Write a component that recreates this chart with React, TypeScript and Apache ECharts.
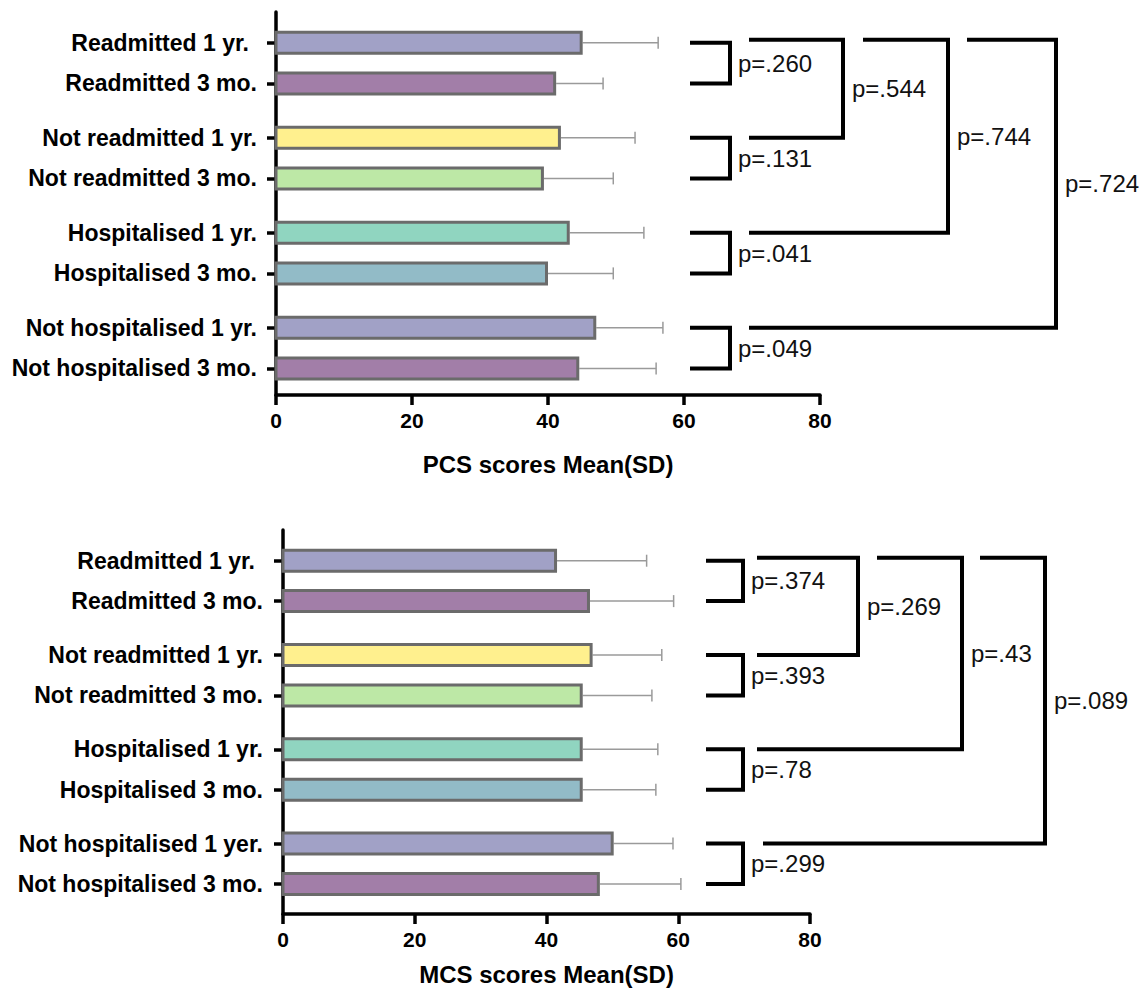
import React, { useEffect, useRef } from "react";
import * as echarts from "echarts";

// ---------- data ----------
const pcsNames = [
  "Readmitted 1 yr. ",
  "Readmitted 3 mo.",
  "Not readmitted 1 yr.",
  "Not readmitted 3 mo.",
  "Hospitalised 1 yr.",
  "Hospitalised 3 mo.",
  "Not hospitalised 1 yr.",
  "Not hospitalised 3 mo.",
];
const mcsNames = [
  "Readmitted 1 yr. ",
  "Readmitted 3 mo.",
  "Not readmitted 1 yr.",
  "Not readmitted 3 mo.",
  "Hospitalised 1 yr.",
  "Hospitalised 3 mo.",
  "Not hospitalised 1 yer.",
  "Not hospitalised 3 mo.",
];
const rowPositions = [0, 3, 7, 10, 14, 17, 21, 24];
const pcsMean = [45.1, 41.2, 41.9, 39.4, 43.2, 40.0, 47.1, 44.6];
const pcsSD = [11.1, 6.9, 10.9, 10.2, 10.9, 9.6, 9.8, 11.3];
const mcsMean = [41.6, 46.6, 47.0, 45.5, 45.5, 45.5, 50.2, 48.1];
const mcsSD = [13.6, 12.7, 10.5, 10.5, 11.4, 11.1, 9.0, 12.3];
const xMin = 0;
const xMax = 80;
const xInterval = 20;
const pcsTitle = "PCS scores Mean(SD)";
const mcsTitle = "MCS scores Mean(SD)";
// pairwise p-values (pairs of rows) and nested comparisons (first pair vs later pair)
const pcsPairP = ["p=.260", "p=.131", "p=.041", "p=.049"];
const pcsNestedP = ["p=.544", "p=.744", "p=.724"];
const mcsPairP = ["p=.374", "p=.393", "p=.78", "p=.299"];
const mcsNestedP = ["p=.269", "p=.43", "p=.089"];

// ---------- styles ----------
const barColors = ["#A1A1C6", "#A27EA8", "#FFF08E", "#BDE8A6", "#90D5C0", "#92BBC7", "#A1A1C6", "#A27EA8"];
const FONT = "'Liberation Sans', Arial, sans-serif";

const bracketLayout = [
  { pairX: [690, 730], levelX: [843, 948, 1056], levelStart: [749, 863, 967], bottomStart: [749, 749, 749] },
  { pairX: [706, 743], levelX: [858, 962, 1045], levelStart: [757, 877, 980], bottomStart: [757, 757, 763] },
];

function renderBar(colors: string[]) {
  return (params: any, api: any) => {
    const mean = api.value(0);
    const pos = api.value(1);
    const sd = api.value(2);
    const p0 = api.coord([0, pos]);
    const p1 = api.coord([mean, pos]);
    const p2 = api.coord([mean + sd, pos]);
    const h = 21;
    return {
      type: "group",
      children: [
        { type: "line", shape: { x1: p1[0], y1: p1[1], x2: p2[0], y2: p2[1] }, style: { stroke: "#9a9a9a", lineWidth: 1.5 } },
        { type: "line", shape: { x1: p2[0], y1: p2[1] - 6, x2: p2[0], y2: p2[1] + 6 }, style: { stroke: "#9a9a9a", lineWidth: 1.5 } },
        {
          type: "rect",
          shape: { x: p0[0], y: p1[1] - h / 2, width: p1[0] - p0[0] - 1.5, height: h },
          style: { fill: colors[params.dataIndex], stroke: "#6b6b6b", lineWidth: 3 },
        },
      ],
    };
  };
}

function yAxisFor(idx: number, names: string[], min: number, max: number, margin: number) {
  return {
    type: "value",
    gridIndex: idx,
    inverse: true,
    min,
    max,
    splitLine: { show: false },
    axisLine: { show: true, onZero: false, lineStyle: { color: "#000", width: 3.5 } },
    axisTick: { show: true, customValues: rowPositions, length: 9, lineStyle: { color: "#000", width: 3.5 } },
    axisLabel: {
      customValues: rowPositions,
      margin,
      color: "#000",
      fontFamily: FONT,
      fontWeight: "bold",
      fontSize: 23,
      formatter: (v: number) => {
        const i = rowPositions.indexOf(Math.round(v));
        if (i < 0) return "";
        const n = names[i];
        if (n.endsWith(" ")) return "{s|" + n.trim() + "}";
        return n;
      },
      rich: {
        s: { padding: [0, 8, 0, 0], color: "#000", fontFamily: FONT, fontWeight: "bold", fontSize: 23 },
      },
    },
  };
}

function xAxisFor(idx: number, name: string, nameGap: number) {
  return {
    type: "value",
    gridIndex: idx,
    min: xMin,
    max: xMax,
    interval: xInterval,
    splitLine: { show: false },
    axisLine: { show: true, onZero: false, lineStyle: { color: "#000", width: 3.5 } },
    axisTick: { show: true, length: 10, lineStyle: { color: "#000", width: 3.5 } },
    axisLabel: { margin: 15, color: "#000", fontFamily: FONT, fontWeight: "bold", fontSize: 21 },
    name,
    nameLocation: "middle",
    nameGap,
    nameTextStyle: { color: "#000", fontFamily: FONT, fontWeight: "bold", fontSize: 24 },
  };
}

export default function App() {
  const ref = useRef<HTMLDivElement>(null);
  useEffect(() => {
    if (!ref.current) return;
    const chart = echarts.init(ref.current, undefined, { renderer: "svg" });
    const option: any = {
      animation: false,
      backgroundColor: "#fff",
      grid: [
        { left: 276, top: 12, width: 544, height: 383, outerBoundsMode: "none", containLabel: false },
        { left: 283, top: 530, width: 527, height: 384, outerBoundsMode: "none", containLabel: false },
      ],
      xAxis: [xAxisFor(0, pcsTitle, 57), xAxisFor(1, mcsTitle, 48)],
      yAxis: [yAxisFor(0, pcsNames, -2.26, 25.96, 19), yAxisFor(1, mcsNames, -2.28, 26.23, 20)],
      series: [
        {
          type: "custom",
          xAxisIndex: 0,
          yAxisIndex: 0,
          clip: false,
          renderItem: renderBar(barColors),
          encode: { x: 0, y: 1 },
          data: pcsMean.map((m, i) => [m, rowPositions[i], pcsSD[i]]),
        },
        {
          type: "custom",
          xAxisIndex: 1,
          yAxisIndex: 1,
          clip: false,
          renderItem: renderBar(barColors),
          encode: { x: 0, y: 1 },
          data: mcsMean.map((m, i) => [m, rowPositions[i], mcsSD[i]]),
        },
      ],
    };
    chart.setOption(option);

    const graphics: any[] = [];
    const lineStyle = { stroke: "#000", lineWidth: 4, fill: null, lineJoin: "miter" };
    const textStyle = (x: number, y: number, t: string) => ({
      type: "text",
      x,
      y,
      style: { text: t, fill: "#111", font: "24px " + FONT, textVerticalAlign: "middle", verticalAlign: "middle" },
    });
    [
      { pair: pcsPairP, nested: pcsNestedP },
      { pair: mcsPairP, nested: mcsNestedP },
    ].forEach((set, g) => {
      const L = bracketLayout[g];
      const yp = (pos: number) => chart.convertToPixel({ yAxisIndex: g } as any, pos) as number;
      set.pair.forEach((p, k) => {
        const ya = yp(rowPositions[2 * k]);
        const yb = yp(rowPositions[2 * k + 1]);
        graphics.push({
          type: "polyline",
          shape: { points: [[L.pairX[0], ya], [L.pairX[1], ya], [L.pairX[1], yb], [L.pairX[0], yb]] },
          style: lineStyle,
        });
        graphics.push(textStyle(L.pairX[1] + 8, (ya + yb) / 2, p));
      });
      const yTop = yp(rowPositions[0] - 0.22);
      set.nested.forEach((p, k) => {
        const yb = yp(rowPositions[2 * (k + 1)]);
        const xv = L.levelX[k];
        graphics.push({
          type: "polyline",
          shape: { points: [[L.levelStart[k], yTop], [xv, yTop], [xv, yb], [L.bottomStart[k], yb]] },
          style: lineStyle,
        });
        graphics.push(textStyle(xv + 9, (yTop + yb) / 2, p));
      });
    });
    chart.setOption({ graphic: graphics });

    return () => chart.dispose();
  }, []);
  return <div ref={ref} style={{ position: "fixed", left: 0, top: 0, width: 1148, height: 994 }} />;
}
